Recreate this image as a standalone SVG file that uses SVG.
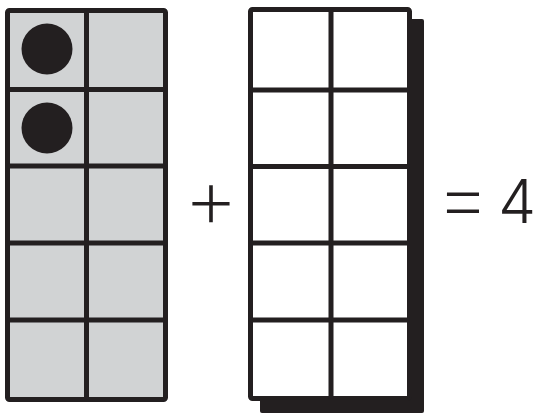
<svg xmlns="http://www.w3.org/2000/svg" width="536" height="413" viewBox="0 0 536 413">
  <style>
    .frame { stroke: #231f20; stroke-width: 5; stroke-linejoin: round; }
    .grid { stroke: #231f20; stroke-width: 5; fill: none; }
    .dot { fill: #231f20; }
    .sym { font-family: "Inter", "DejaVu Sans", "Liberation Sans", sans-serif; font-weight: 300; font-size: 60px; fill: #231f20; text-anchor: middle; }
    .op { font-size: 86px; font-weight: 200; }
  </style>
  <rect width="536" height="413" fill="#ffffff"/>
  <g id="left-frame">
    <rect class="frame" x="7.5" y="10.5" width="158" height="389" rx="2" fill="#d1d3d4"/>
    <path class="grid" d="M86.5 10.5V399.5M7.5 89.5H165.5M7.5 166H165.5M7.5 243H165.5M7.5 320H165.5"/>
    <circle class="dot" cx="47" cy="49" r="25.5"/>
    <circle class="dot" cx="47" cy="128" r="25.5"/>
  </g>
  <g id="plus">
    <text class="sym op" x="211" y="228">+</text>
  </g>
  <g id="right-frame">
    <rect x="260" y="19" width="164" height="394" rx="2" fill="#231f20"/>
    <rect class="frame" x="250.5" y="9.5" width="159" height="389" rx="2" fill="#ffffff"/>
    <path class="grid" d="M331 9.5V398.5M250.5 90H409.5M250.5 166.5H409.5M250.5 243H409.5M250.5 320H409.5"/>
  </g>
  <g id="equals">
    <text class="sym op" x="463" y="227">=</text>
    <text class="sym" x="517" y="223">4</text>
  </g>
  <g id="connectors"/>
</svg>
